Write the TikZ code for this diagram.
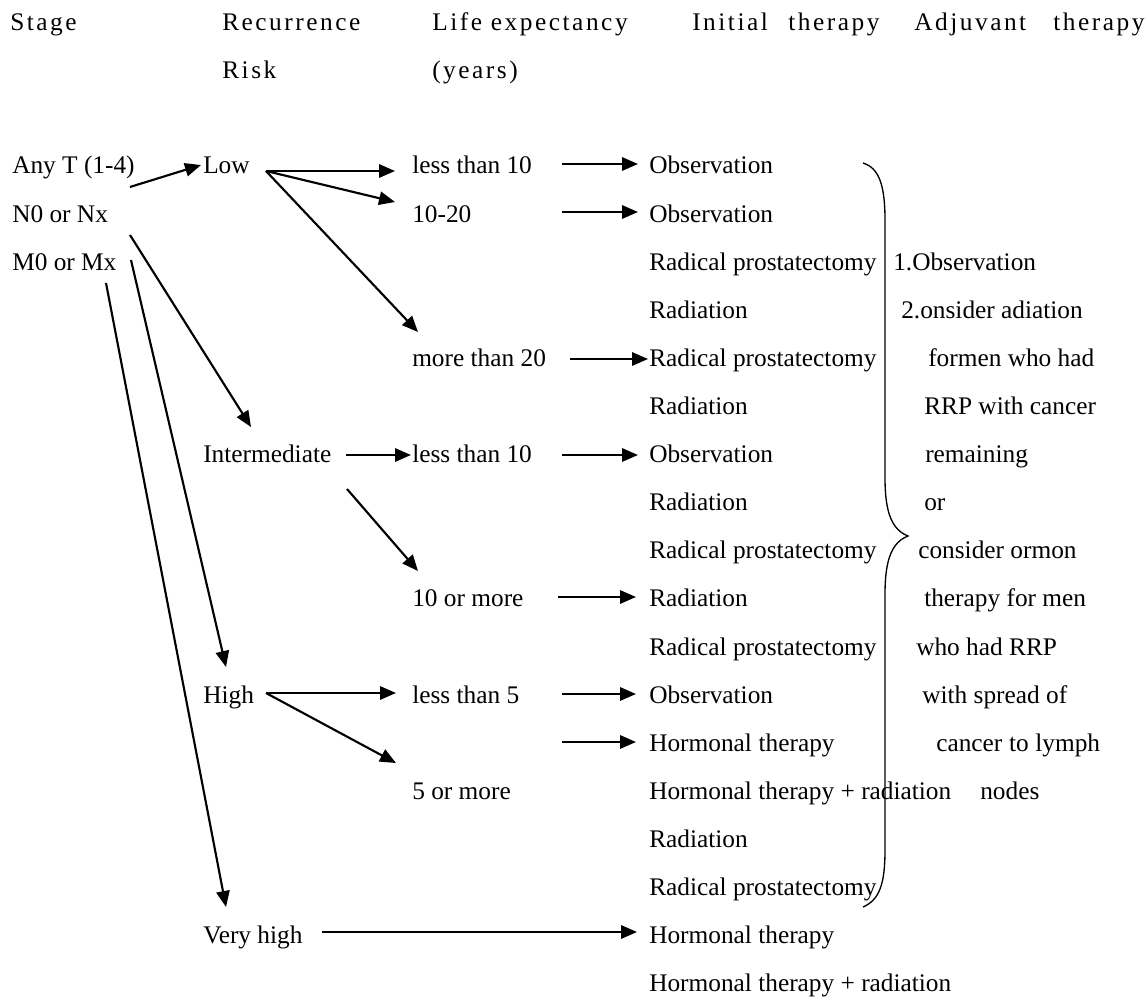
\documentclass[tikz,border=0pt]{standalone}
\usepackage{fontspec}
\setmainfont{Liberation Serif}
\newfontfamily\hdrfont[LetterSpace=10]{Liberation Serif}
\usetikzlibrary{arrows.meta,calc}
\newcommand\bodyfnt{\fontsize{19}{23}\selectfont}
\newcommand\hdrfnt{\hdrfont\fontsize{19}{23}\selectfont}
\newcommand\wsp{\hspace{5pt}}
\begin{document}
\begin{tikzpicture}[x=0.75pt,y=-0.75pt,
  txt/.style={anchor=base west,inner sep=0pt,font=\bodyfnt},
  hdr/.style={anchor=base west,inner sep=0pt,font=\hdrfnt},
  arr/.style={line width=1.6pt,-{Triangle[length=12pt,width=10pt]}},
  bracepath/.style={line width=1pt}]
\useasboundingbox (0,0) rectangle (1148,998);
\def\b#1{{174+48.1*#1}}
% headers
\node[hdr] (h1) at (10,31) {Stage};
\node[hdr] (h2) at (222,31) {Recurrence};
\node[hdr] (h2b) at (222,79) {Risk};
\node[hdr] (h3) at (432,31) {Life expectancy};
\node[hdr] (h3b) at (432,79) {(years)};
\node[hdr] (h4) at (692,31) {Initial};
\node[hdr] (h4b) at (788,31) {therapy};
\node[hdr] (h5) at (914,31) {Adjuvant};
\node[hdr] (h5b) at (1053,31) {therapy};
% stage
\node[txt] (anyt) at (12,\b0) {Any T (1-4)};
\node[txt] (n0) at (12,\b1) {N0 or Nx};
\node[txt] (m0) at (12,\b2) {M0 or Mx};
% risk
\node[txt] (low) at (203,\b0) {Low};
\node[txt] (inter) at (203,\b6) {Intermediate};
\node[txt] (high) at (203,\b{11}) {High};
\node[txt] (vhigh) at (203,\b{16}) {Very high};
% life expectancy
\node[txt] (le1) at (412,\b0) {less than 10};
\node[txt] (le2) at (412,\b1) {10-20};
\node[txt] (le3) at (412,\b4) {more than 20};
\node[txt] (le4) at (412,\b6) {less than 10};
\node[txt] (le5) at (412,\b9) {10 or more};
\node[txt] (le6) at (412,\b{11}) {less than 5};
\node[txt] (le7) at (412,\b{13}) {5 or more};
% initial therapy
\node[txt] (i0) at (649,\b0) {Observation};
\node[txt] (i1) at (649,\b1) {Observation};
\node[txt] (i2) at (649,\b2) {Radical prostatectomy};
\node[txt] (i3) at (649,\b3) {Radiation};
\node[txt] (i4) at (649,\b4) {Radical prostatectomy};
\node[txt] (i5) at (649,\b5) {Radiation};
\node[txt] (i6) at (649,\b6) {Observation};
\node[txt] (i7) at (649,\b7) {Radiation};
\node[txt] (i8) at (649,\b8) {Radical prostatectomy};
\node[txt] (i9) at (649,\b9) {Radiation};
\node[txt] (i10) at (649,\b{10}) {Radical prostatectomy};
\node[txt] (i11) at (649,\b{11}) {Observation};
\node[txt] (i12) at (649,\b{12}) {Hormonal\wsp therapy};
\node[txt] (i13) at (649,\b{13}) {Hormonal therapy + radiation};
\node[txt] (i14) at (649,\b{14}) {Radiation};
\node[txt] (i15) at (649,\b{15}) {Radical prostatectomy};
\node[txt] (i16) at (649,\b{16}) {Hormonal therapy};
\node[txt] (i17) at (649,\b{17}) {Hormonal therapy + radiation};
% adjuvant therapy
\node[txt] (a2) at (893,\b2) {1.Observation};
\node[txt] (a3) at (901,\b3) {2.onsider adiation};
\node[txt] (a4) at (928,\b4) {formen who had};
\node[txt] (a5) at (924,\b5) {RRP with cancer};
\node[txt] (a6) at (925,\b6) {remaining};
\node[txt] (a7) at (924,\b7) {or};
\node[txt] (a8) at (918,\b8) {consider ormon};
\node[txt] (a9) at (924,\b9) {therapy for men};
\node[txt] (a10) at (916,\b{10}) {who had RRP};
\node[txt] (a11) at (922,\b{11}) {with spread of};
\node[txt] (a12) at (936,\b{12}) {cancer\wsp to\wsp lymph};
\node[txt] (a13) at (980,\b{13}) {nodes};
% arrow end points
\coordinate (anyt-o) at (130,187);  \coordinate (low-i) at (201,165);
\coordinate (low-o) at (266,171);
\coordinate (le1-i) at (395,171);   \coordinate (le2-i) at (395,202);
\coordinate (le3-i) at (418,332);
\coordinate (n0-o) at (130,235);    \coordinate (inter-i) at (251,427);
\coordinate (m0-o1) at (131,260);   \coordinate (high-i) at (226,667);
\coordinate (m0-o2) at (106,283);   \coordinate (vhigh-i) at (226,907);
\coordinate (inter-o1) at (346,455); \coordinate (le4-i) at (411,455);
\coordinate (inter-o2) at (347,489); \coordinate (le5-i) at (418,571);
\coordinate (high-o) at (266,693);
\coordinate (le6-i) at (396,693);   \coordinate (le7-i) at (396,763);
\coordinate (vhigh-o) at (322,932); \coordinate (i16-i) at (637,932);
\coordinate (le1-o) at (562,164);   \coordinate (i0-i) at (638,164);
\coordinate (le2-o) at (562,212);   \coordinate (i1-i) at (638,212);
\coordinate (le3-o) at (570,359);   \coordinate (i4-i) at (648,359);
\coordinate (le4-o) at (562,455);   \coordinate (i6-i) at (638,455);
\coordinate (le5-o) at (558,597);   \coordinate (i9-i) at (636,597);
\coordinate (le6-o) at (562,694);   \coordinate (i11-i) at (636,694);
\coordinate (x12-o) at (562,742);   \coordinate (i12-i) at (636,742);
% arrows
\draw[arr] (anyt-o) -- (low-i);
\draw[arr] (low-o) -- (le1-i);
\draw[arr] (low-o) -- (le2-i);
\draw[arr] (low-o) -- (le3-i);
\draw[arr] (n0-o) -- (inter-i);
\draw[arr] (m0-o1) -- (high-i);
\draw[arr] (m0-o2) -- (vhigh-i);
\draw[arr] (inter-o1) -- (le4-i);
\draw[arr] (inter-o2) -- (le5-i);
\draw[arr] (high-o) -- (le6-i);
\draw[arr] (high-o) -- (le7-i);
\draw[arr] (vhigh-o) -- (i16-i);
\draw[arr] (le1-o) -- (i0-i);
\draw[arr] (le2-o) -- (i1-i);
\draw[arr] (le3-o) -- (i4-i);
\draw[arr] (le4-o) -- (i6-i);
\draw[arr] (le5-o) -- (i9-i);
\draw[arr] (le6-o) -- (i11-i);
\draw[arr] (x12-o) -- (i12-i);
% brace
\draw[bracepath] (863,163) .. controls (879,168) and (885,185) .. (885,220)
  -- (885,478) .. controls (885,515) and (893,530) .. (908,536)
  .. controls (893,542) and (885,557) .. (885,594)
  -- (885,850) .. controls (885,885) and (879,900) .. (863,907);
\end{tikzpicture}
\end{document}
